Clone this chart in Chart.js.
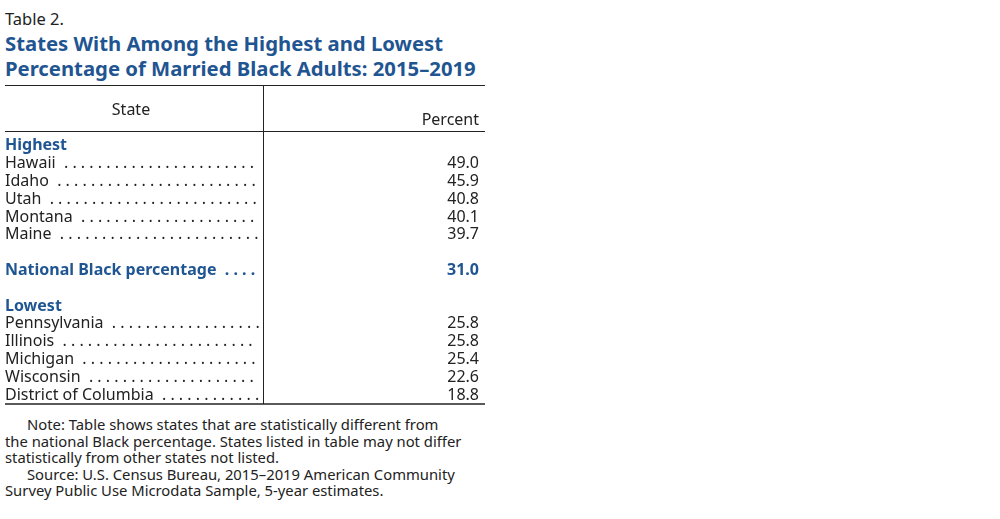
<!DOCTYPE html>
<html>
<head>
<meta charset="utf-8">
<script src="https://cdn.jsdelivr.net/npm/chart.js@4"></script>
<style>
  body { margin: 0; background: #fff; font-family: "Noto Sans", sans-serif; }
  .wrap { position: relative; width: 1000px; height: 519px; }
  .lbl { position: absolute; left: 5px; top: 7px; font-size: 16.5px; color: #222; }
  .title { position: absolute; left: 5px; top: 31px; font-size: 20.3px; font-weight: bold; color: #1f5591; line-height: 25px; }
  .note { position: absolute; left: 5px; top: 416px; width: 490px; font-size: 14.8px; color: #222; line-height: 16.5px; }
  .note p { margin: 0; text-indent: 22px; }
  #tbl { position: absolute; left: 0; top: 80px; }
</style>
</head>
<body>
<div class="wrap">
  <div class="lbl">Table 2.</div>
  <div class="title">States With Among the Highest and Lowest<br>Percentage of Married Black Adults: 2015–2019</div>
  <canvas id="tbl" width="490" height="330"></canvas>
  <div class="note">
    <p>Note: Table shows states that are statistically different from</p>
    the national Black percentage. States listed in table may not differ statistically from other states not listed.
    <p>Source: U.S. Census Bureau, 2015–2019 American Community</p>
    Survey Public Use Microdata Sample, 5-year estimates.
  </div>
</div>
<script>
// 行ラベル（空文字は区切り行）
const rows = ['Highest', 'Hawaii', 'Idaho', 'Utah', 'Montana', 'Maine', '',
  'National Black percentage', '', 'Lowest', 'Pennsylvania', 'Illinois', 'Michigan', 'Wisconsin', 'District of Columbia'];
const states = ['Hawaii', 'Idaho', 'Utah', 'Montana', 'Maine', 'National Black percentage',
  'Pennsylvania', 'Illinois', 'Michigan', 'Wisconsin', 'District of Columbia'];
const percents = [49.0, 45.9, 40.8, 40.1, 39.7, 31.0, 25.8, 25.8, 25.4, 22.6, 18.8];
const boldRows = ['Highest', 'Lowest', 'National Black percentage'];

const BLUE = '#1f5591';
const FONT = '"Noto Sans", sans-serif';
const SIZE = '16px ';

const tablePlugin = {
    id: 'tablePlugin',
    afterDraw(chart) {
        const ctx = chart.ctx;
        const area = chart.chartArea;
        const yScale = chart.scales.y;
        const divX = 263;
        const top = 5;
        ctx.save();
        // 罫線
        ctx.strokeStyle = '#222';
        ctx.lineWidth = 1;
        ctx.beginPath();
        ctx.moveTo(5, top + 0.5); ctx.lineTo(485, top + 0.5);
        ctx.moveTo(5, area.top - 5.5); ctx.lineTo(485, area.top - 5.5);
        ctx.moveTo(divX + 0.5, top); ctx.lineTo(divX + 0.5, area.bottom);
        ctx.stroke();
        ctx.lineWidth = 1.5;
        ctx.beginPath();
        ctx.moveTo(5, area.bottom); ctx.lineTo(485, area.bottom);
        ctx.stroke();

        // 見出し
        ctx.fillStyle = '#222';
        ctx.font = SIZE + FONT;
        ctx.textBaseline = 'middle';
        ctx.textAlign = 'center';
        ctx.fillText('State', 131, 30);
        ctx.textAlign = 'right';
        ctx.fillText('Percent', 479, 40);

        // 行ラベル
        ctx.textAlign = 'left';
        rows.forEach(function (r, i) {
            if (!r) return;
            const y = yScale.getPixelForValue(i);
            const bold = boldRows.includes(r);
            ctx.font = (bold ? 'bold ' : '') + SIZE + FONT;
            ctx.fillStyle = bold ? BLUE : '#222';
            let text = r;
            if (r !== 'Highest' && r !== 'Lowest') {
                text += ' ';
                while (ctx.measureText(text + ' .').width < divX - 8) text += ' .';
            }
            ctx.fillText(text, 5, y);
        });

        // 数値
        ctx.textAlign = 'right';
        const meta = chart.getDatasetMeta(0);
        meta.data.forEach(function (pt, i) {
            const bold = states[i] === 'National Black percentage';
            ctx.font = (bold ? 'bold ' : '') + SIZE + FONT;
            ctx.fillStyle = bold ? BLUE : '#222';
            ctx.fillText(percents[i].toFixed(1), 479, pt.y);
        });
        ctx.restore();
    }
};

new Chart(document.getElementById('tbl'), {
    type: 'scatter',
    data: {
        datasets: [{
            data: states.map(function (s, i) { return { x: percents[i], y: s }; }),
            pointRadius: 0
        }]
    },
    options: {
        responsive: false,
        animation: false,
        layout: { padding: { top: 57, bottom: 6, left: 5, right: 5 } },
        plugins: { legend: { display: false }, tooltip: { enabled: false } },
        scales: {
            x: { type: 'linear', min: 0, max: 50, display: false },
            y: { type: 'category', labels: rows, offset: true, display: false }
        }
    },
    plugins: [tablePlugin]
});
</script>
</body>
</html>
